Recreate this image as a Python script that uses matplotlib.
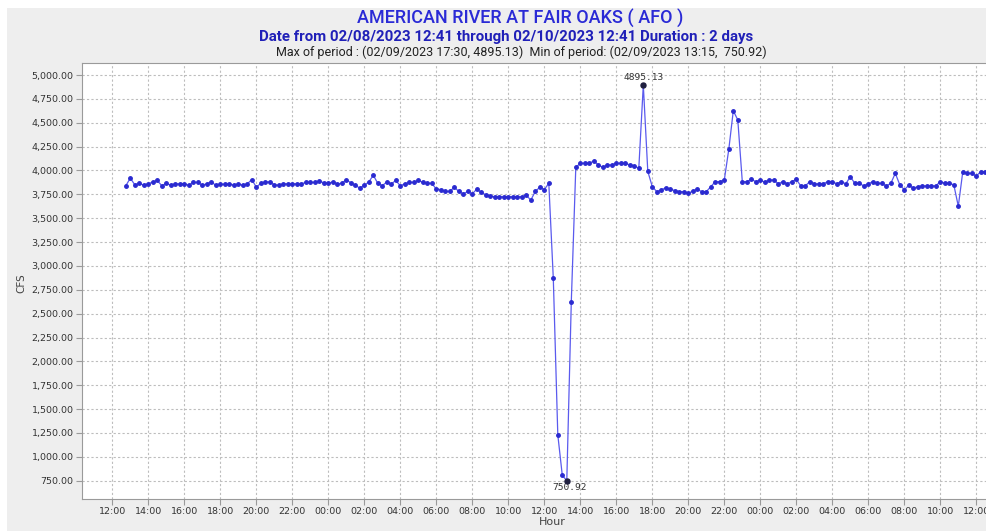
import matplotlib
matplotlib.use('Agg')
import matplotlib.pyplot as plt
import matplotlib.dates as mdates
from matplotlib.ticker import FuncFormatter
from matplotlib.patches import Rectangle
import pandas as pd
import numpy as np

# ---- data (15-minute readings, CFS) ----
start_time = '2023-02-08 12:45'
# 02/08 12:45 - 23:45
cfs_feb08 = [3840, 3920, 3850, 3865, 3845, 3860, 3880, 3895, 3840, 3865,
             3845, 3860, 3860, 3860, 3845, 3875, 3875, 3845, 3860, 3880,
             3845, 3855, 3855, 3860, 3845, 3860, 3845, 3860, 3905, 3825,
             3865, 3880, 3880, 3850, 3845, 3860, 3860, 3860, 3860, 3860,
             3875, 3875, 3875, 3890, 3870]
# 02/09 00:00 - 12:15
cfs_feb09_am = [3865, 3880, 3860, 3865, 3905, 3870, 3845, 3815, 3845, 3880,
                3950, 3865, 3840, 3880, 3860, 3895, 3840, 3860, 3875, 3875,
                3895, 3875, 3865, 3865, 3805, 3800, 3780, 3780, 3825, 3780,
                3755, 3780, 3755, 3805, 3770, 3745, 3730, 3725, 3725, 3725,
                3725, 3725, 3725, 3725, 3740, 3690, 3780, 3825, 3800, 3865]
# 02/09 12:30 - 13:45
cfs_feb09_drop = [2870, 1230, 805, 750.92, 2625, 4033]
# 02/09 14:00 - 23:45
cfs_feb09_pm = [4075, 4075, 4075, 4100, 4058, 4033, 4058, 4058, 4075, 4075,
                4075, 4058, 4050, 4023, 4895.13, 3990, 3830, 3778, 3795, 3820,
                3803, 3790, 3778, 3778, 3760, 3785, 3803, 3778, 3778, 3830,
                3883, 3883, 3900, 4222, 4626, 4529, 3883, 3883, 3907, 3883]
# 02/10 00:00 - 12:30
cfs_feb10 = [3900, 3877, 3900, 3900, 3860, 3884, 3860, 3884, 3907, 3838,
             3838, 3884, 3860, 3860, 3860, 3884, 3884, 3860, 3884, 3860,
             3935, 3865, 3865, 3838, 3860, 3884, 3865, 3865, 3838, 3865,
             3970, 3850, 3798, 3845, 3815, 3830, 3838, 3838, 3838, 3838,
             3884, 3865, 3865, 3850, 3625, 3988, 3970, 3970, 3942, 3988,
             3988]

y_ticks = [750, 1000, 1250, 1500, 1750, 2000, 2250, 2500, 2750, 3000,
           3250, 3500, 3750, 4000, 4250, 4500, 4750, 5000]

title = 'AMERICAN RIVER AT FAIR OAKS ( AFO )'
subtitle = 'Date from 02/08/2023 12:41 through 02/10/2023 12:41 Duration : 2 days'
stats_line = 'Max of period : (02/09/2023 17:30, 4895.13)  Min of period: (02/09/2023 13:15,  750.92)'

values = np.array(cfs_feb08 + cfs_feb09_am + cfs_feb09_drop + cfs_feb09_pm + cfs_feb10)
times = pd.date_range(start_time, periods=len(values), freq='15min')

W, H = 987, 531
fig = plt.figure(figsize=(W / 100, H / 100), dpi=100)
fig.patch.set_facecolor('white')
fig.add_artist(Rectangle((7 / W, 0), 1, (H - 8) / H, transform=fig.transFigure,
                         facecolor='#eeeeee', edgecolor='none', zorder=-10))

head_font = ['Roboto', 'DejaVu Sans']

ax = fig.add_axes([82 / W, 32 / H, (988.6 - 82) / W, (499 - 63) / H])
ax.set_facecolor('white')

ax.plot(times, values, color='#5a5aee', lw=0.9, marker='o', ms=2.5,
        mfc='#2a2ad0', mec='#2a2ad0', zorder=3)

imax = int(np.argmax(values))
imin = int(np.argmin(values))
ax.plot([times[imax]], [values[imax]], 'o', color='#202040', ms=3.6, zorder=4)
ax.plot([times[imin]], [values[imin]], 'o', color='#202040', ms=3.6, zorder=4)
ax.annotate(f'{values[imax]:.2f}', (times[imax], values[imax]), xytext=(0, 2),
            textcoords='offset points', ha='center', va='bottom',
            family='DejaVu Sans Mono', fontsize=6.8, color='#333333')
ax.annotate(f'{values[imin]:.2f}', (times[imin], values[imin]), xytext=(2, -2),
            textcoords='offset points', ha='center', va='top',
            family='DejaVu Sans Mono', fontsize=6.8, color='#333333')

ax.set_xlim(pd.Timestamp('2023-02-08 10:19'), pd.Timestamp('2023-02-10 12:41'))
ax.set_ylim(558, 5126)
ax.set_yticks(y_ticks)
ax.yaxis.set_major_formatter(FuncFormatter(lambda v, p: f'{v:,.2f}'))
ax.xaxis.set_major_locator(mdates.HourLocator(byhour=range(0, 24, 2)))
ax.xaxis.set_major_formatter(mdates.DateFormatter('%H:%M'))

ax.grid(True, color='#bdbdbd', linestyle=(0, (2, 2)), linewidth=0.8)
ax.set_axisbelow(True)
for side in ['left', 'bottom', 'top', 'right']:
    ax.spines[side].set_color('#9a9a9a')
    ax.spines[side].set_linewidth(0.8)
ax.tick_params(axis='both', direction='out', length=4, width=0.8, color='#9a9a9a',
               labelsize=6.8, labelcolor='#333333', pad=2)

ax.set_ylabel('CFS', fontsize=7.5, color='#444444')
ax.yaxis.set_label_coords(-(82 - 26) / (988.6 - 82), (499 - 283) / (499 - 63))
fig.text(552 / W, 1 - 522 / H, 'Hour', ha='center', va='center', fontsize=8, color='#444444')

fig.text(520 / W, 1 - 18 / H, title, ha='center', va='center', fontsize=13,
         color='#2a2ad6', family=head_font, fontweight='medium')
fig.text(506 / W, 1 - 37 / H, subtitle, ha='center', va='center', fontsize=10.8,
         color='#2020b8', fontweight='bold', family=head_font)
fig.text(521 / W, 1 - 52 / H, stats_line, ha='center', va='center', fontsize=9,
         color='#222222', family=head_font)

fig.savefig('out.png', dpi=100, facecolor=fig.get_facecolor())
